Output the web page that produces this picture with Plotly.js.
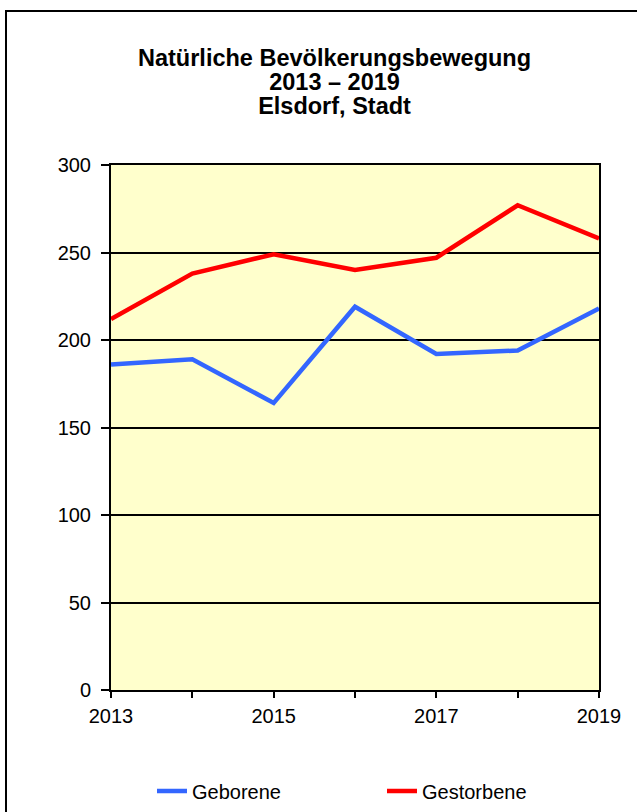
<!DOCTYPE html>
<html>
<head>
<meta charset="utf-8">
<script src="https://cdn.plot.ly/plotly-3.0.1.min.js"></script>
<style>
html,body{margin:0;padding:0;background:#fff;}
#chart{width:637px;height:812px;}
</style>
</head>
<body>
<div id="chart"></div>
<script>
const years = [2013, 2014, 2015, 2016, 2017, 2018, 2019];
const yearLabels = ["2013", "", "2015", "", "2017", "", "2019"];
const geborene = [186, 189, 164, 219, 192, 194, 218];
const gestorbene = [212, 238, 249, 240, 247, 277, 258];
const seriesNames = ["Geborene", "Gestorbene"];
const titleLines = ["Natürliche Bevölkerungsbewegung", "2013 – 2019", "Elsdorf, Stadt"];

const FONT = "Liberation Sans, Arial, sans-serif";
const W = 637, H = 812;
const mL = 111, mR = 38, mT = 165, mB = 122;
const pw = W - mL - mR, ph = H - mT - mB;
const px = v => (v - mL) / pw;
const py = v => (H - mB - v) / ph;

const traces = [
  {x: years, y: geborene, name: seriesNames[0], type: "scatter", mode: "lines",
   line: {color: "#3366FF", width: 4.5}},
  {x: years, y: gestorbene, name: seriesNames[1], type: "scatter", mode: "lines",
   line: {color: "#FF0000", width: 4.5}}
];

// one text block: base size sets 24px line spacing, spans set glyph size
const titleText = titleLines
  .map(t => '<span style="font-size:23.5px"><b>' + t + '</b></span>')
  .join("<br>");

const layout = {
  width: W, height: H,
  margin: {l: mL, r: mR, t: mT, b: mB, pad: 0},
  paper_bgcolor: "#FFFFFF",
  plot_bgcolor: "#FFFFCC",
  showlegend: true,
  legend: {
    orientation: "h", xref: "container", yref: "container",
    x: 152 / W, y: 1 - 791 / H, xanchor: "left", yanchor: "middle",
    entrywidth: 185, entrywidthmode: "pixels",
    font: {family: FONT, size: 20, color: "#000"}, bgcolor: "rgba(0,0,0,0)"
  },
  xaxis: {
    range: [2013, 2019], tickvals: years, ticktext: yearLabels,
    showgrid: false, zeroline: false,
    showline: true, linecolor: "#000", linewidth: 2, mirror: true,
    ticks: "outside", ticklen: 6, tickwidth: 2, tickcolor: "#000",
    ticklabelstandoff: 1,
    tickfont: {family: FONT, size: 20, color: "#000"}
  },
  yaxis: {
    range: [0, 300], dtick: 50, tick0: 0,
    showgrid: true, gridcolor: "#000", gridwidth: 2, zeroline: false,
    showline: true, linecolor: "#000", linewidth: 2, mirror: true,
    ticks: "outside", ticklen: 8, tickwidth: 2, tickcolor: "#000",
    ticklabelstandoff: 6,
    tickfont: {family: FONT, size: 20, color: "#000"}
  },
  annotations: [{
    text: titleText, xref: "paper", yref: "paper",
    x: px(334), y: py(82), xanchor: "center", yanchor: "middle", align: "center",
    showarrow: false, borderpad: 0,
    font: {family: FONT, size: 24 / 1.3, color: "#000"}
  }],
  shapes: [{
    type: "rect", xref: "paper", yref: "paper",
    x0: px(6), x1: px(646), y0: py(830), y1: py(11),
    line: {color: "#000", width: 2}, fillcolor: "rgba(0,0,0,0)", layer: "below"
  }]
};

Plotly.newPlot("chart", traces, layout, {displayModeBar: false, staticPlot: true});
</script>
</body>
</html>
